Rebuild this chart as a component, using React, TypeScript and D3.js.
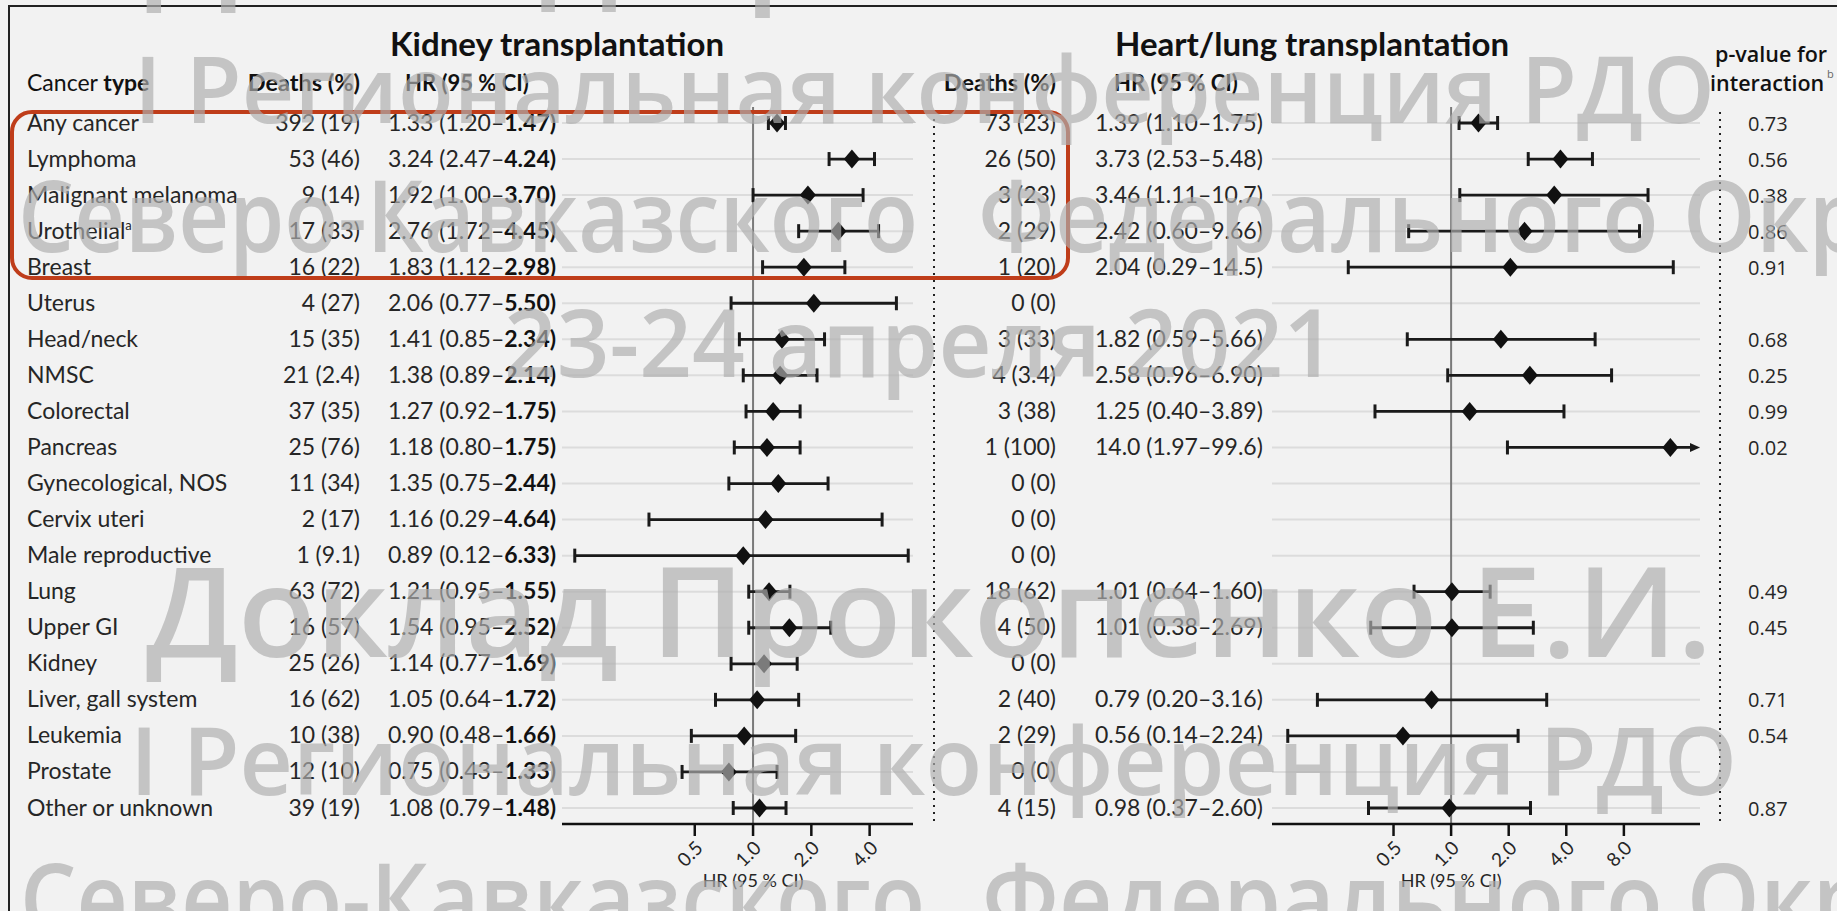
import React from 'react';
import * as d3 from 'd3';

const cancerTypes = [
  'Any cancer', 'Lymphoma', 'Malignant melanoma', 'Urothelial', 'Breast', 'Uterus',
  'Head/neck', 'NMSC', 'Colorectal', 'Pancreas', 'Gynecological, NOS', 'Cervix uteri',
  'Male reproductive', 'Lung', 'Upper GI', 'Kidney', 'Liver, gall system', 'Leukemia',
  'Prostate', 'Other or unknown',
];
const superscripts = ['', '', '', 'a', '', '', '', '', '', '', '', '', '', '', '', '', '', '', '', ''];

const kidneyDeathN = [392, 53, 9, 17, 16, 4, 15, 21, 37, 25, 11, 2, 1, 63, 16, 25, 16, 10, 12, 39];
const kidneyDeathPct = [19, 46, 14, 33, 22, 27, 35, 2.4, 35, 76, 34, 17, 9.1, 72, 57, 26, 62, 38, 10, 19];
const kidneyHR = [1.33, 3.24, 1.92, 2.76, 1.83, 2.06, 1.41, 1.38, 1.27, 1.18, 1.35, 1.16, 0.89, 1.21, 1.54, 1.14, 1.05, 0.90, 0.75, 1.08];
const kidneyLo = [1.20, 2.47, 1.00, 1.72, 1.12, 0.77, 0.85, 0.89, 0.92, 0.80, 0.75, 0.29, 0.12, 0.95, 0.95, 0.77, 0.64, 0.48, 0.43, 0.79];
const kidneyHi = [1.47, 4.24, 3.70, 4.45, 2.98, 5.50, 2.34, 2.14, 1.75, 1.75, 2.44, 4.64, 6.33, 1.55, 2.52, 1.69, 1.72, 1.66, 1.33, 1.48];

const heartDeathN = [73, 26, 3, 2, 1, 0, 3, 4, 3, 1, 0, 0, 0, 18, 4, 0, 2, 2, 0, 4];
const heartDeathPct = [23, 50, 23, 29, 20, 0, 33, 3.4, 38, 100, 0, 0, 0, 62, 50, 0, 40, 29, 0, 15];
const heartHR = [1.39, 3.73, 3.46, 2.42, 2.04, null, 1.82, 2.58, 1.25, 14.0, null, null, null, 1.01, 1.01, null, 0.79, 0.56, null, 0.98];
const heartLo = [1.10, 2.53, 1.11, 0.60, 0.29, null, 0.59, 0.96, 0.40, 1.97, null, null, null, 0.64, 0.38, null, 0.20, 0.14, null, 0.37];
const heartHi = [1.75, 5.48, 10.7, 9.66, 14.5, null, 5.66, 6.90, 3.89, 99.6, null, null, null, 1.60, 2.69, null, 3.16, 2.24, null, 2.60];

const pValues = ['0.73', '0.56', '0.38', '0.86', '0.91', '', '0.68', '0.25', '0.99', '0.02', '', '', '', '0.49', '0.45', '', '0.71', '0.54', '', '0.87'];

const kidneyTicks = [0.5, 1, 2, 4];
const heartTicks = [0.5, 1, 2, 4, 8];

const watermarkTexts = [
  'Доклад Прокопенко Е.И.',
  'I Региональная конференция РДО',
  'Северо-Кавказского',
  'Федерального Округа',
  '23-24 апреля 2021',
  'Доклад Прокопенко Е.И.',
  'I Региональная конференция РДО',
  'Северо-Кавказского',
  'Федерального Округа',
];
// x, baseline y, font size, text length
const watermarkLayout = [
  [146, -12, 125, 1566],
  [134, 123, 92, 1581],
  [18, 252, 100, 900],
  [978, 252, 100, 1034],
  [504, 377, 94, 832],
  [146, 657, 125, 1566],
  [130, 795, 95, 1607],
  [20, 935, 100, 905],
  [982, 935, 100, 1034],
];

const fmtHR = (v: number) => (v >= 10 ? v.toFixed(1) : v.toFixed(2));

const BODY_FONT = 'Lato, "Open Sans", sans-serif';
const TEXT_COLOR = '#262626';

function Forest({ x, hr, lo, hi, ticks, y, axisY, topY }: any) {
  const [r0, r1] = x.range();
  const [d0, d1] = x.domain();
  return (
    <g>
      {cancerTypes.map((c) => (
        <line key={'g' + c} x1={r0} x2={r1} y1={y(c)} y2={y(c)} stroke="#dcdcdc" strokeWidth={2} />
      ))}
      <line x1={x(1)} x2={x(1)} y1={topY} y2={axisY} stroke="#7a7a7a" strokeWidth={2} />
      {cancerTypes.map((c, i) => {
        if (hr[i] == null) return null;
        const cy = y(c) as number;
        const clipped = hi[i] > d1;
        const xl = x(Math.max(lo[i], d0));
        const xh = clipped ? r1 : x(hi[i]);
        const xm = x(hr[i]);
        return (
          <g key={'f' + c}>
            <line x1={xl} x2={clipped ? xh - 8 : xh} y1={cy} y2={cy} stroke="#1a1a1a" strokeWidth={2.8} />
            <line x1={xl} x2={xl} y1={cy - 7} y2={cy + 7} stroke="#1a1a1a" strokeWidth={3} />
            {clipped ? (
              <path d={`M${xh},${cy} L${xh - 10},${cy - 4.5} L${xh - 10},${cy + 4.5} Z`} fill="#1a1a1a" />
            ) : (
              <line x1={xh} x2={xh} y1={cy - 7} y2={cy + 7} stroke="#1a1a1a" strokeWidth={3} />
            )}
            <path d={`M${xm - 8},${cy} L${xm},${cy - 9.5} L${xm + 8},${cy} L${xm},${cy + 9.5} Z`} fill="#111" />
          </g>
        );
      })}
      <line x1={r0} x2={r1} y1={axisY} y2={axisY} stroke="#111" strokeWidth={2.5} />
      {ticks.map((t: number) => (
        <g key={'t' + t}>
          <line x1={x(t)} x2={x(t)} y1={axisY} y2={axisY + 12} stroke="#111" strokeWidth={2.5} />
          <text
            x={x(t) + 4}
            y={axisY + 20}
            transform={`rotate(-45, ${x(t) + 4}, ${axisY + 20})`}
            textAnchor="end"
            dominantBaseline="central"
            fontFamily={BODY_FONT}
            fontSize={19}
            fill={TEXT_COLOR}
          >
            {t.toFixed(1)}
          </text>
        </g>
      ))}
      <text x={x(1)} y={axisY + 63} textAnchor="middle" fontFamily={BODY_FONT} fontSize={18} fill={TEXT_COLOR}>
        HR (95 % CI)
      </text>
    </g>
  );
}

export default function App() {
  const W = 1837;
  const H = 911;
  const y = d3.scalePoint<string>().domain(cancerTypes).range([123, 808]);
  const xK = d3.scaleLog().domain([0.1031, 6.7]).range([562, 913]);
  const xH = d3.scaleLog().domain([0.1158, 20.0]).range([1272, 1700]);
  const axisY = 824;
  const topY = 107;
  const textDy = 7.5;

  return (
    <svg
      width={W}
      height={H}
      style={{ position: 'absolute', left: 0, top: 0, display: 'block' }}
      xmlns="http://www.w3.org/2000/svg"
    >
      <rect x={0} y={0} width={W} height={H} fill="#f2f2f2" />
      <rect x={9} y={6} width={W + 20} height={H + 20} fill="none" stroke="#222" strokeWidth={2} />

      {/* titles */}
      <text x={390} y={56} fontFamily={BODY_FONT} fontWeight={700} fontSize={33} fill="#111">
        Kidney transplantation
      </text>
      <text x={1115} y={56} fontFamily={BODY_FONT} fontWeight={700} fontSize={33} fill="#111">
        Heart/lung transplantation
      </text>

      {/* headers */}
      <text x={27} y={91} fontFamily={BODY_FONT} fontSize={23} fill="#111">
        <tspan>Cancer </tspan>
        <tspan fontWeight={700}>type</tspan>
      </text>
      <text x={360} y={91} textAnchor="end" fontFamily={BODY_FONT} fontWeight={700} fontSize={23.5} fill="#111">
        Deaths (%)
      </text>
      <text x={405} y={91} fontFamily={BODY_FONT} fontWeight={700} fontSize={22} fill="#111">
        HR (95 % CI)
      </text>
      <text x={1056} y={91} textAnchor="end" fontFamily={BODY_FONT} fontWeight={700} fontSize={23.5} fill="#111">
        Deaths (%)
      </text>
      <text x={1114} y={91} fontFamily={BODY_FONT} fontWeight={700} fontSize={22} fill="#111">
        HR (95 % CI)
      </text>
      <text x={1715} y={62} fontFamily='"Open Sans", sans-serif' fontWeight={600} fontSize={21.5} fill="#111">
        p-value for
      </text>
      <text x={1710} y={91} fontFamily='"Open Sans", sans-serif' fontWeight={600} fontSize={21.5} fill="#111">
        interaction
        <tspan fontSize={11} dy={-13} fontWeight={400} fill="#666"> b</tspan>
      </text>

      {/* row texts */}
      {cancerTypes.map((c, i) => {
        const ty = (y(c) as number) + textDy;
        return (
          <g key={'r' + c} fontFamily={BODY_FONT} fontSize={23} fill={TEXT_COLOR}>
            <text x={27} y={ty}>
              {c}
              {superscripts[i] ? (
                <tspan fontSize={13} dy={-9}>{superscripts[i]}</tspan>
              ) : null}
            </text>
            <text x={360} y={ty} textAnchor="end">{`${kidneyDeathN[i]} (${kidneyDeathPct[i]})`}</text>
            <text x={388} y={ty}>
              {`${fmtHR(kidneyHR[i])} (${fmtHR(kidneyLo[i])}–`}
              <tspan fontWeight={700} fill="#111">{`${fmtHR(kidneyHi[i])})`}</tspan>
            </text>
            <text x={1056} y={ty} textAnchor="end">{`${heartDeathN[i]} (${heartDeathPct[i]})`}</text>
            {heartHR[i] != null ? (
              <text x={1095} y={ty}>
                {`${fmtHR(heartHR[i] as number)} (${fmtHR(heartLo[i] as number)}–${fmtHR(heartHi[i] as number)})`}
              </text>
            ) : null}
            {pValues[i] ? (
              <text x={1748} y={ty} fontFamily='"Open Sans", sans-serif' fontSize={20}>{pValues[i]}</text>
            ) : null}
          </g>
        );
      })}

      <Forest x={xK} hr={kidneyHR} lo={kidneyLo} hi={kidneyHi} ticks={kidneyTicks} y={y} axisY={axisY} topY={topY} />
      <Forest x={xH} hr={heartHR} lo={heartLo} hi={heartHi} ticks={heartTicks} y={y} axisY={axisY} topY={topY} />

      {/* dotted separators */}
      <line x1={934} x2={934} y1={112} y2={826} stroke="#222" strokeWidth={2} strokeDasharray="2 5" />
      <line x1={1720} x2={1720} y1={112} y2={826} stroke="#222" strokeWidth={2} strokeDasharray="2 5" />

      {/* highlight box */}
      <rect x={12} y={112} width={1056} height={166} rx={20} ry={20} fill="none" stroke="#bf3d1a" strokeWidth={4} />

      {/* watermark */}
      <g fontFamily='"Open Sans", sans-serif' fontWeight={600} fill="#aeaeae" fillOpacity={0.68}>
        {watermarkTexts.map((t, i) => {
          const [wx, wy, fs, len] = watermarkLayout[i];
          return (
            <text key={'w' + i} x={wx} y={wy} fontSize={fs} textLength={len} lengthAdjust="spacingAndGlyphs">
              {t}
            </text>
          );
        })}
      </g>
    </svg>
  );
}
